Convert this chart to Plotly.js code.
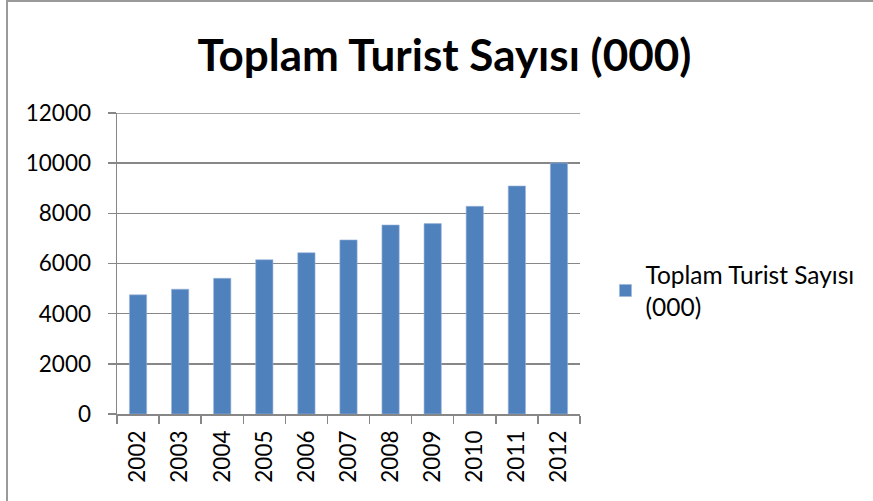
<!DOCTYPE html>
<html><head><meta charset="utf-8">
<script src="https://cdn.plot.ly/plotly-3.0.1.min.js"></script>
<style>
html,body{margin:0;padding:0;background:#fff;}
#wrap{position:relative;width:873px;height:501px;overflow:hidden;}
#chart{position:absolute;left:0;top:0;width:873px;height:501px;}
.bl{position:absolute;left:6px;top:0;width:2px;height:501px;background:#9a9a9a;z-index:5;}
.bt{position:absolute;left:6px;top:0;width:867px;height:2px;background:#9a9a9a;z-index:5;}
</style>
</head><body>
<div id="wrap"><div id="chart"></div><div class="bl"></div><div class="bt"></div></div>
<script>
var years = ['2002','2003','2004','2005','2006','2007','2008','2009','2010','2011','2012'];
var tourists = [4750, 4975, 5410, 6150, 6430, 6940, 7535, 7590, 8280, 9090, 10010];
var seriesName = 'Toplam Turist Sayısı<br>(000)';
var chartTitle = 'Toplam Turist Sayısı (000)';
var yTicks = [0, 2000, 4000, 6000, 8000, 10000, 12000];
var yTickText = ['0', '2000', '4000', '6000', '8000', '10000', '12000'];

var font = 'Lato, "Open Sans", sans-serif';
var yMax = yTicks[yTicks.length - 1];
var trace = {
  type: 'bar', x: years, y: tourists, name: seriesName,
  marker: {color: '#4f81bd', line: {color: '#9cb6dc', width: 0.6}},
  showlegend: true
};
var layout = {
  width: 873, height: 501,
  margin: {l: 117, r: 293, t: 113, b: 87},
  paper_bgcolor: '#fff', plot_bgcolor: '#fff',
  bargap: 0.59,
  title: {text: '<b>' + chartTitle + '</b>', x: 0.509, xanchor: 'center', y: 0.89, yanchor: 'middle', yref: 'container',
          font: {family: font, size: 44, color: '#000'}},
  xaxis: {type: 'category', tickangle: -90, tickfont: {family: font, size: 22.5, color: '#000'},
          showline: true, linecolor: '#878787', linewidth: 1.5, ticks: 'outside', ticklen: 8, tickcolor: '#878787', tickwidth: 1.5,
          tickson: 'boundaries', showgrid: false, fixedrange: true, ticklabelstandoff: 6},
  yaxis: {range: [0, yMax], tickvals: yTicks, ticktext: yTickText, tickfont: {family: font, size: 22.5, color: '#000'},
          showline: true, linecolor: '#878787', linewidth: 1.5, ticks: 'outside', ticklen: 8, tickcolor: '#878787', tickwidth: 1.5,
          gridcolor: '#878787', gridwidth: 1.5, zeroline: false, fixedrange: true, ticklabelstandoff: 12},
  shapes: [{type: 'line', xref: 'paper', x0: 0, x1: 1, yref: 'y', y0: yMax, y1: yMax, line: {color: '#878787', width: 1.5}, layer: 'below'}],
  legend: {x: 1.055, xanchor: 'left', y: 0.41, yanchor: 'middle', font: {family: font, size: 24.5, color: '#000'},
           bgcolor: 'rgba(0,0,0,0)', itemwidth: 30}
};
Plotly.newPlot('chart', [trace], layout, {displayModeBar: false, staticPlot: true});
</script>
</body></html>
